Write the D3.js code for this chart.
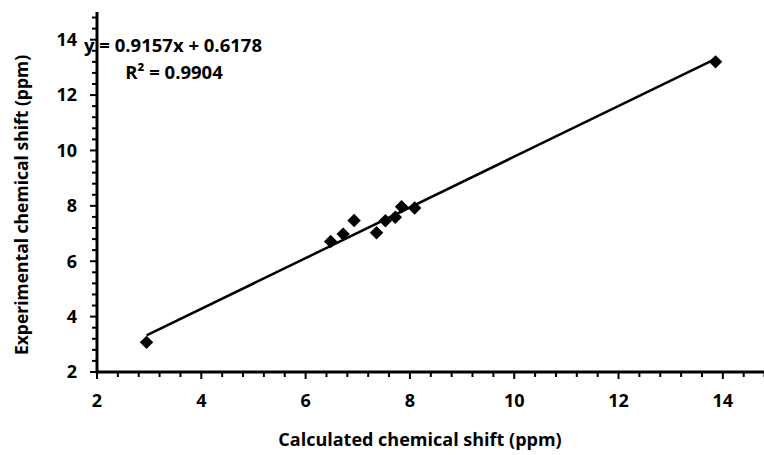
<!DOCTYPE html>
<html>
<head>
<meta charset="utf-8">
<script src="https://cdn.jsdelivr.net/npm/d3@7"></script>
<style>
  body { margin: 0; background: #fff; }
  svg { display: block; font-family: "Open Sans", sans-serif; font-weight: bold; }
</style>
</head>
<body>
<svg id="chart" width="764" height="455"></svg>
<script>
// calculated vs experimental shifts (ppm)
const calculated = [2.95, 6.48, 6.72, 6.93, 7.36, 7.53, 7.72, 7.84, 8.09, 13.86];
const experimental = [3.07, 6.71, 6.98, 7.47, 7.03, 7.46, 7.59, 7.97, 7.92, 13.2];
const xTicks = [2, 4, 6, 8, 10, 12, 14];
const yTicks = [2, 4, 6, 8, 10, 12, 14];
const slope = 0.9157, intercept = 0.6178;
const eqLabel = "y = 0.9157x + 0.6178";
const r2Label = "R² = 0.9904";

const svg = d3.select("#chart");
const data = calculated.map((c, i) => ({ x: c, y: experimental[i] }));

const x = d3.scaleLinear().domain([2, 15]).range([97, 775]);
const y = d3.scaleLinear().domain([2, 15]).range([372, 12]);

const minor = d3.range(0, 33).map(i => +(2 + i * 0.4).toFixed(1));

// x axis
const gx = svg.append("g").attr("transform", `translate(0,${y(2)})`);
gx.append("line").attr("x1", x(2)).attr("x2", 764).attr("stroke", "#000").attr("stroke-width", 3);
gx.selectAll("line.minor").data(minor.filter(v => v <= 15)).join("line")
    .attr("class", "minor")
    .attr("x1", d => x(d)).attr("x2", d => x(d))
    .attr("y1", 0).attr("y2", d => xTicks.includes(d) ? 7 : 5)
    .attr("stroke", "#000").attr("stroke-width", 2);
gx.selectAll("text").data(xTicks).join("text")
    .attr("x", d => x(d)).attr("y", 35)
    .attr("text-anchor", "middle")
    .attr("font-size", 18)
    .text(d => d);

// y axis
const gy = svg.append("g").attr("transform", `translate(${x(2)},0)`);
gy.append("line").attr("y1", y(2) + 1.5).attr("y2", y(15)).attr("stroke", "#000").attr("stroke-width", 3);
gy.selectAll("line.minor").data(minor.filter(v => v < 15)).join("line")
    .attr("class", "minor")
    .attr("y1", d => y(d)).attr("y2", d => y(d))
    .attr("x1", 0).attr("x2", d => yTicks.includes(d) ? -7 : -5)
    .attr("stroke", "#000").attr("stroke-width", 2);
gy.selectAll("text").data(yTicks).join("text")
    .attr("x", -20).attr("y", d => y(d))
    .attr("dy", "0.35em")
    .attr("text-anchor", "end")
    .attr("font-size", 18)
    .text(d => d);

// trendline
const xr = d3.extent(calculated);
svg.append("line")
    .attr("x1", x(xr[0])).attr("y1", y(slope * xr[0] + intercept))
    .attr("x2", x(xr[1])).attr("y2", y(slope * xr[1] + intercept))
    .attr("stroke", "#000").attr("stroke-width", 2.5);

// points
svg.append("g").selectAll("path").data(data).join("path")
    .attr("d", d3.symbol(d3.symbolSquare, 90))
    .attr("transform", d => `translate(${x(d.x)},${y(d.y)}) rotate(45)`)
    .attr("fill", "#000");

// equation
svg.append("text").attr("x", 173).attr("y", 52).attr("text-anchor", "middle")
    .attr("font-size", 18.5).text(eqLabel);
svg.append("text").attr("x", 174).attr("y", 79).attr("text-anchor", "middle")
    .attr("font-size", 18.5).text(r2Label);

// axis titles
svg.append("text").attr("x", 420).attr("y", 446).attr("text-anchor", "middle")
    .attr("font-size", 18).text("Calculated chemical shift (ppm)");
svg.append("text").attr("transform", "translate(28,205) rotate(-90)")
    .attr("text-anchor", "middle").attr("font-size", 17.5)
    .text("Experimental chemical shift (ppm)");
</script>
</body>
</html>
